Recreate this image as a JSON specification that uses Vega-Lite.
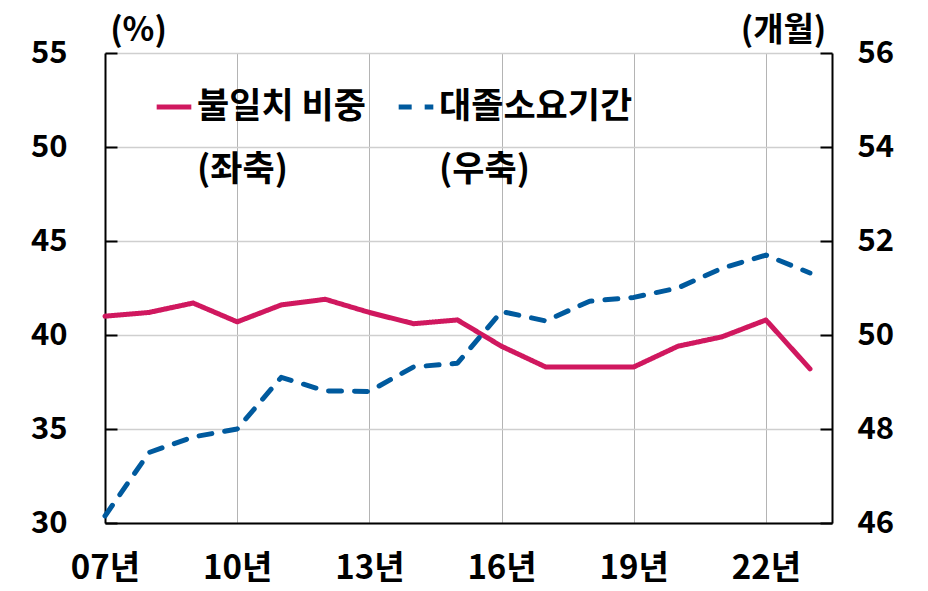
{
  "$schema": "https://vega.github.io/schema/vega-lite/v6.json",
  "width": 727,
  "height": 470,
  "autosize": {"type": "none"},
  "padding": {"left": 105, "top": 53, "right": 96, "bottom": 68},
  "background": "white",
  "config": {
    "view": {"stroke": null},
    "font": "Noto Sans CJK KR",
    "style": {"guide-label": {"lineHeight": 63}},
    "legend": {
      "orient": "none",
      "legendX": 49,
      "legendY": 34,
      "direction": "horizontal",
      "title": null,
      "symbolType": "stroke",
      "symbolSize": 1200,
      "symbolStrokeWidth": 5,
      "labelFontSize": 35,
      "labelFontWeight": "bold",
      "labelColor": "#000000",
      "labelLimit": 400,
      "labelOffset": 3,
      "columnPadding": 22
    }
  },
  "data": {
    "values": [
      {"year": 2007, "series": "불일치 비중", "value": 41.0},
      {"year": 2008, "series": "불일치 비중", "value": 41.2},
      {"year": 2009, "series": "불일치 비중", "value": 41.7},
      {"year": 2010, "series": "불일치 비중", "value": 40.7},
      {"year": 2011, "series": "불일치 비중", "value": 41.6},
      {"year": 2012, "series": "불일치 비중", "value": 41.9},
      {"year": 2013, "series": "불일치 비중", "value": 41.2},
      {"year": 2014, "series": "불일치 비중", "value": 40.6},
      {"year": 2015, "series": "불일치 비중", "value": 40.8},
      {"year": 2016, "series": "불일치 비중", "value": 39.4},
      {"year": 2017, "series": "불일치 비중", "value": 38.3},
      {"year": 2018, "series": "불일치 비중", "value": 38.3},
      {"year": 2019, "series": "불일치 비중", "value": 38.3},
      {"year": 2020, "series": "불일치 비중", "value": 39.4},
      {"year": 2021, "series": "불일치 비중", "value": 39.9},
      {"year": 2022, "series": "불일치 비중", "value": 40.8},
      {"year": 2023, "series": "불일치 비중", "value": 38.2},
      {"year": 2007, "series": "대졸소요기간", "value": 46.15},
      {"year": 2008, "series": "대졸소요기간", "value": 47.5},
      {"year": 2009, "series": "대졸소요기간", "value": 47.83},
      {"year": 2010, "series": "대졸소요기간", "value": 48.0},
      {"year": 2011, "series": "대졸소요기간", "value": 49.1},
      {"year": 2012, "series": "대졸소요기간", "value": 48.81},
      {"year": 2013, "series": "대졸소요기간", "value": 48.8},
      {"year": 2014, "series": "대졸소요기간", "value": 49.32},
      {"year": 2015, "series": "대졸소요기간", "value": 49.4},
      {"year": 2016, "series": "대졸소요기간", "value": 50.5},
      {"year": 2017, "series": "대졸소요기간", "value": 50.3},
      {"year": 2018, "series": "대졸소요기간", "value": 50.72},
      {"year": 2019, "series": "대졸소요기간", "value": 50.8},
      {"year": 2020, "series": "대졸소요기간", "value": 51.0},
      {"year": 2021, "series": "대졸소요기간", "value": 51.42},
      {"year": 2022, "series": "대졸소요기간", "value": 51.7},
      {"year": 2023, "series": "대졸소요기간", "value": 51.32}
    ]
  },
  "encoding": {
    "x": {
      "field": "year",
      "type": "quantitative",
      "scale": {"domain": [2007, 2023.5], "nice": false, "zero": false},
      "axis": {
        "title": null,
        "values": [2007, 2010, 2013, 2016, 2019, 2022],
        "labelExpr": "(datum.value % 100 < 10 ? '0' : '') + (datum.value % 100) + '년'",
        "labelFontSize": 33,
        "labelFontWeight": "bold",
        "labelColor": "#000000",
        "labelPadding": 29,
        "labelFlush": false,
        "ticks": false,
        "domainColor": "#000000",
        "domainWidth": 2,
        "grid": true,
        "gridColor": "#b4b4b4",
        "gridWidth": 1
      }
    },
    "color": {
      "field": "series",
      "type": "nominal",
      "scale": {"domain": ["불일치 비중", "대졸소요기간"], "range": ["#D0185F", "#005A9E"]},
      "legend": {"labelExpr": "datum.label === '불일치 비중' ? ['불일치 비중', '(좌축)'] : ['대졸소요기간', '(우축)']"}
    },
    "strokeDash": {
      "field": "series",
      "type": "nominal",
      "scale": {"domain": ["불일치 비중", "대졸소요기간"], "range": [[1, 0], [13, 13]]},
      "legend": {"labelExpr": "datum.label === '불일치 비중' ? ['불일치 비중', '(좌축)'] : ['대졸소요기간', '(우축)']"}
    }
  },
  "layer": [
    {
      "transform": [{"filter": "datum.series === '불일치 비중'"}],
      "mark": {"type": "line", "strokeWidth": 5, "strokeCap": "round", "strokeJoin": "round"},
      "encoding": {
        "y": {
          "field": "value",
          "type": "quantitative",
          "scale": {"domain": [30, 55], "nice": false, "zero": false},
          "axis": {
            "orient": "left",
            "values": [30, 35, 40, 45, 50, 55],
            "grid": true,
            "gridColor": "#cfcfcf",
            "gridWidth": 1.5,
            "ticks": true,
            "tickSize": -12,
            "tickColor": "#000000",
            "tickWidth": 2,
            "domainColor": "#000000",
            "domainWidth": 2,
            "labelFontSize": 31,
            "labelFontWeight": "bold",
            "labelColor": "#000000",
            "labelPadding": 50,
            "title": "(%)",
            "titleAngle": 0,
            "titleX": 33,
            "titleY": -23,
            "titleAlign": "center",
            "titleBaseline": "middle",
            "titleFontSize": 33,
            "titleFontWeight": "bold",
            "titleColor": "#000000"
          }
        }
      }
    },
    {
      "transform": [{"filter": "datum.series === '대졸소요기간'"}],
      "mark": {"type": "line", "strokeWidth": 5, "strokeCap": "round", "strokeJoin": "round"},
      "encoding": {
        "y": {
          "field": "value",
          "type": "quantitative",
          "scale": {"domain": [46, 56], "nice": false, "zero": false},
          "axis": {
            "orient": "right",
            "values": [46, 48, 50, 52, 54, 56],
            "grid": false,
            "ticks": true,
            "tickSize": -12,
            "tickColor": "#000000",
            "tickWidth": 2,
            "domainColor": "#000000",
            "domainWidth": 2,
            "labelFontSize": 31,
            "labelFontWeight": "bold",
            "labelColor": "#000000",
            "labelPadding": 37,
            "title": "(개월)",
            "titleAngle": 0,
            "titleX": -49,
            "titleY": -23,
            "titleAlign": "center",
            "titleBaseline": "middle",
            "titleFontSize": 33,
            "titleFontWeight": "bold",
            "titleColor": "#000000"
          }
        }
      }
    }
  ],
  "resolve": {"scale": {"y": "independent"}}
}
